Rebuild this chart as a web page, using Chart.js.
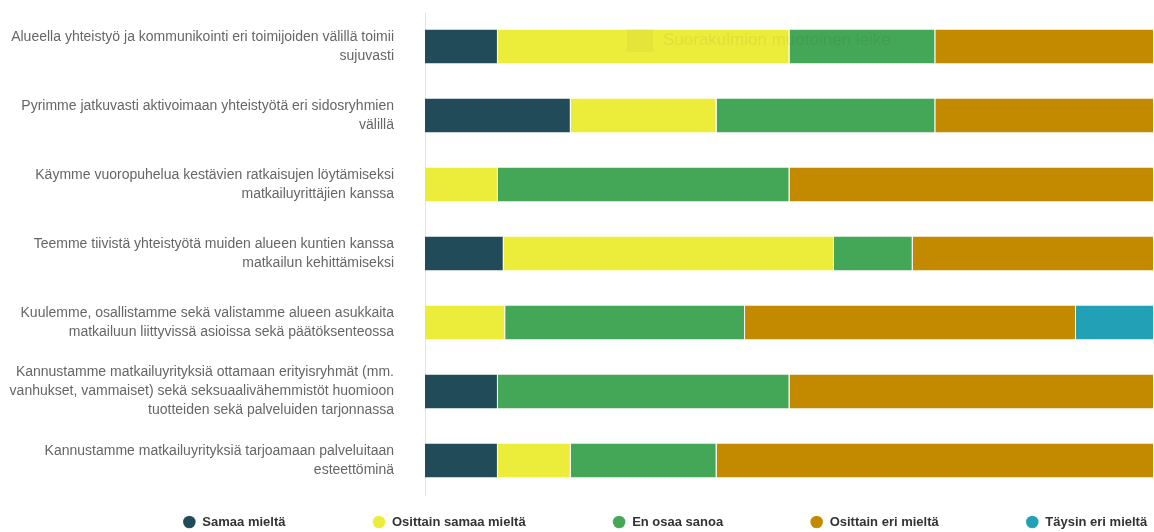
<!DOCTYPE html>
<html lang="fi">
<head>
<meta charset="utf-8">
<script src="https://cdn.jsdelivr.net/npm/chart.js@4"></script>
<style>
  html, body { margin: 0; padding: 0; background: #fff; overflow: hidden; }
  #wrap { width: 1154px; height: 532px; position: relative; }
</style>
</head>
<body>
<div id="wrap"><canvas id="kyselyChart"></canvas></div>
<script>
// Väittämät (rivit), rivitetty kuten kyselyraportissa
const statements = [
    ["Alueella yhteistyö ja kommunikointi eri toimijoiden välillä toimii", "sujuvasti"],
    ["Pyrimme jatkuvasti aktivoimaan yhteistyötä eri sidosryhmien", "välillä"],
    ["Käymme vuoropuhelua kestävien ratkaisujen löytämiseksi", "matkailuyrittäjien kanssa"],
    ["Teemme tiivistä yhteistyötä muiden alueen kuntien kanssa", "matkailun kehittämiseksi"],
    ["Kuulemme, osallistamme sekä valistamme alueen asukkaita", "matkailuun liittyvissä asioissa sekä päätöksenteossa"],
    ["Kannustamme matkailuyrityksiä ottamaan erityisryhmät (mm.", "vanhukset, vammaiset) sekä seksuaalivähemmistöt huomioon", "tuotteiden sekä palveluiden tarjonnassa"],
    ["Kannustamme matkailuyrityksiä tarjoamaan palveluitaan", "esteettöminä"]
];

// Vastausten osuudet (%) per väittämä
const samaaMielta        = [10, 20, 0, 10.8, 0, 10, 10];
const osittainSamaa      = [40, 20, 10, 45.3, 11, 0, 10];
const enOsaaSanoa        = [20, 30, 40, 10.8, 32.9, 40, 20];
const osittainEri        = [30, 30, 50, 33.1, 45.4, 50, 60];
const taysinEri          = [0, 0, 0, 0, 10.7, 0, 0];

const seriesNames  = ["Samaa mieltä", "Osittain samaa mieltä", "En osaa sanoa", "Osittain eri mieltä", "Täysin eri mieltä"];
const seriesColors = ["#224b5a", "#ecec3b", "#44a657", "#c38a00", "#22a0b6"];
const seriesData   = [samaaMielta, osittainSamaa, enOsaaSanoa, osittainEri, taysinEri];

// Leikkaustyökalun haalea teksti kuvan päällä
const snipText = "Suorakulmion muotoinen leike";

// legend: wide gaps between items but kept close under the bars, shifted right
const legendPlacement = {
    id: 'legendPlacement',
    beforeDraw(chart, args, opts) {
        const lg = chart.legend;
        if (!lg) return;
        const pad = lg.options.labels.padding;
        lg.top = chart.chartArea.bottom + opts.gap - pad;
        lg.bottom = lg.top + pad + 40;
        lg.left += opts.offsetX;
        lg.right += opts.offsetX;
    }
};

const snipOverlay = {
    id: 'snipOverlay',
    afterDraw(chart) {
        const ctx = chart.ctx;
        ctx.save();
        ctx.fillStyle = 'rgba(0,0,0,0.03)';
        ctx.fillRect(627, 29, 26, 23);
        ctx.fillStyle = 'rgba(0,0,0,0.055)';
        ctx.font = '17px "Liberation Sans", Arial, sans-serif';
        ctx.textBaseline = 'middle';
        ctx.fillText(snipText, 663, 40);
        ctx.restore();
    }
};

const ctx = document.getElementById('kyselyChart').getContext('2d');
const myChart = new Chart(ctx, {
    type: 'bar',
    data: {
        labels: statements,
        datasets: seriesNames.map((name, i) => ({
            label: name,
            data: seriesData[i],
            backgroundColor: seriesColors[i],
            borderColor: 'rgba(255,255,255,0.7)',
            borderWidth: {left: 0, right: 1, top: 0, bottom: 0},
            borderSkipped: false,
            categoryPercentage: 1,
            barPercentage: 0.49
        }))
    },
    options: {
        indexAxis: 'y',
        responsive: true,
        maintainAspectRatio: false,
        animation: false,
        layout: { padding: { top: 12, right: 0, bottom: 0, left: 0 } },
        scales: {
            x: {
                stacked: true,
                display: false,
                min: 0,
                max: 100
            },
            y: {
                stacked: true,
                grid: { display: false, drawTicks: false },
                border: { display: true, color: '#e4e4e4', width: 1 },
                ticks: {
                    color: '#666',
                    padding: 31,
                    font: { family: '"Liberation Sans", Arial, sans-serif', size: 14, lineHeight: 1.35 }
                },
                afterFit(scale) {
                    // fixed label column, no extra room for the top/bottom labels
                    scale.width = 425;
                    scale.paddingTop = 0;
                    scale.paddingBottom = 0;
                }
            }
        },
        plugins: {
            tooltip: { enabled: false },
            legend: {
                position: 'bottom',
                maxHeight: 37,
                labels: {
                    usePointStyle: true,
                    pointStyle: 'circle',
                    boxHeight: 9,
                    padding: 87,
                    color: '#333',
                    font: { family: '"Liberation Sans", Arial, sans-serif', size: 13, weight: 'bold' }
                }
            },
            legendPlacement: { offsetX: 88, gap: 20.5 }
        }
    },
    plugins: [legendPlacement, snipOverlay]
});
</script>
</body>
</html>
